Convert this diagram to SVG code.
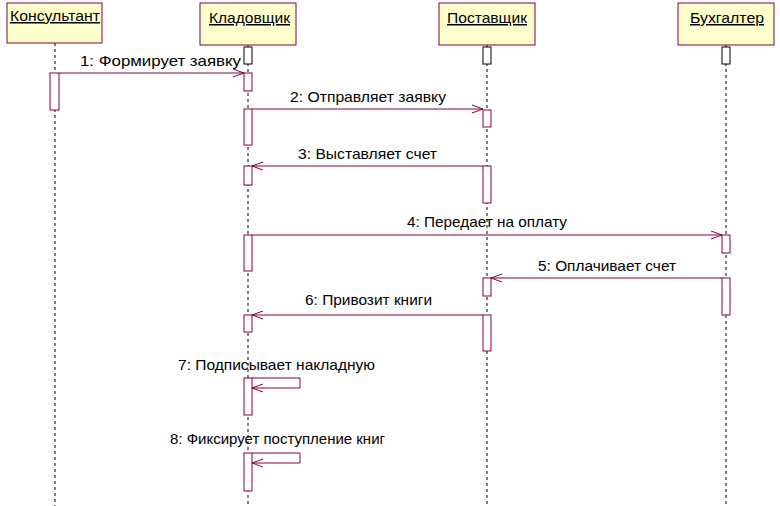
<svg xmlns="http://www.w3.org/2000/svg" width="780" height="506" viewBox="0 0 780 506">
<style>
text{font-family:"Liberation Sans",Arial,sans-serif;font-size:15px;fill:#000}
.hd{fill:#ffffcc;stroke:#800040;stroke-width:1}
.ll{stroke:#000;stroke-dasharray:3,3;stroke-width:1}
.act{fill:#fff;stroke:#800040;stroke-width:1}
.box{fill:#fff;stroke:#000;stroke-width:1}
.msg{fill:none;stroke:#800040;stroke-width:1;marker-end:url(#a)}
</style>
<defs><marker id="a" markerWidth="12" markerHeight="10" refX="11" refY="5" orient="auto" markerUnits="userSpaceOnUse"><path d="M0,1 L11,5 L0,9" fill="none" stroke="#800040"/></marker></defs>
<g id="lifelines">
<line class="ll" x1="55" y1="43" x2="55" y2="506"/>
<line class="ll" x1="248" y1="45" x2="248" y2="506"/>
<line class="ll" x1="487" y1="45" x2="487" y2="506"/>
<line class="ll" x1="726" y1="45" x2="726" y2="506"/>
</g>
<g id="konsultant"><rect class="hd" x="7" y="3" width="95" height="40"/><text x="10" y="21" textLength="90" lengthAdjust="spacingAndGlyphs" text-decoration="underline">Консультант</text>
<rect class="act" x="50" y="73" width="9" height="37"/></g>
<g id="kladovshik"><rect class="hd" x="200" y="3" width="96" height="42"/><text x="209" y="23" textLength="81" lengthAdjust="spacingAndGlyphs" text-decoration="underline">Кладовщик</text>
<rect class="box" x="244" y="47" width="8" height="17"/>
<rect class="act" x="244" y="73" width="8" height="18"/>
<rect class="act" x="244" y="109" width="8" height="36"/>
<rect class="act" x="244" y="166" width="8" height="19"/>
<rect class="act" x="244" y="235" width="8" height="36"/>
<rect class="act" x="244" y="315" width="8" height="17"/>
<rect class="act" x="244" y="378" width="8" height="37"/>
<rect class="act" x="244" y="453" width="8" height="38"/></g>
<g id="postavshik"><rect class="hd" x="439" y="3" width="96" height="42"/><text x="447" y="23" textLength="80" lengthAdjust="spacingAndGlyphs" text-decoration="underline">Поставщик</text>
<rect class="box" x="483" y="47" width="8" height="17"/>
<rect class="act" x="483" y="110" width="8" height="17"/>
<rect class="act" x="483" y="166" width="8" height="37"/>
<rect class="act" x="483" y="278" width="8" height="18"/>
<rect class="act" x="483" y="315" width="8" height="36"/></g>
<g id="buhgalter"><rect class="hd" x="678" y="3" width="96" height="42"/><text x="690" y="23" textLength="74" lengthAdjust="spacingAndGlyphs" text-decoration="underline">Бухгалтер</text>
<rect class="box" x="722" y="47" width="8" height="17"/>
<rect class="act" x="722" y="235" width="8" height="18"/>
<rect class="act" x="722" y="278" width="8" height="37"/></g>
<g id="connectors">
<path class="msg" d="M59,73 H244"/>
<path class="msg" d="M252,109 H483"/>
<path class="msg" d="M483,166 H252"/>
<path class="msg" d="M252,235 H722"/>
<path class="msg" d="M722,278 H491"/>
<path class="msg" d="M483,315 H252"/>
<path class="msg" d="M252,378 H300 V388 H252"/>
<path class="msg" d="M252,453 H300 V463 H252"/>
</g>
<g id="labels">
<text x="80" y="66" textLength="161" lengthAdjust="spacingAndGlyphs">1: Формирует заявку</text>
<text x="290" y="102" textLength="156" lengthAdjust="spacingAndGlyphs">2: Отправляет заявку</text>
<text x="298" y="159" textLength="139" lengthAdjust="spacingAndGlyphs">3: Выставляет счет</text>
<text x="407" y="227" textLength="160" lengthAdjust="spacingAndGlyphs">4: Передает на оплату</text>
<text x="538" y="271" textLength="138" lengthAdjust="spacingAndGlyphs">5: Оплачивает счет</text>
<text x="305" y="305" textLength="127" lengthAdjust="spacingAndGlyphs">6: Привозит книги</text>
<text x="178" y="370" textLength="197" lengthAdjust="spacingAndGlyphs">7: Подписывает накладную</text>
<text x="170" y="444" textLength="215" lengthAdjust="spacingAndGlyphs">8: Фиксирует поступление книг</text>
</g>
</svg>
